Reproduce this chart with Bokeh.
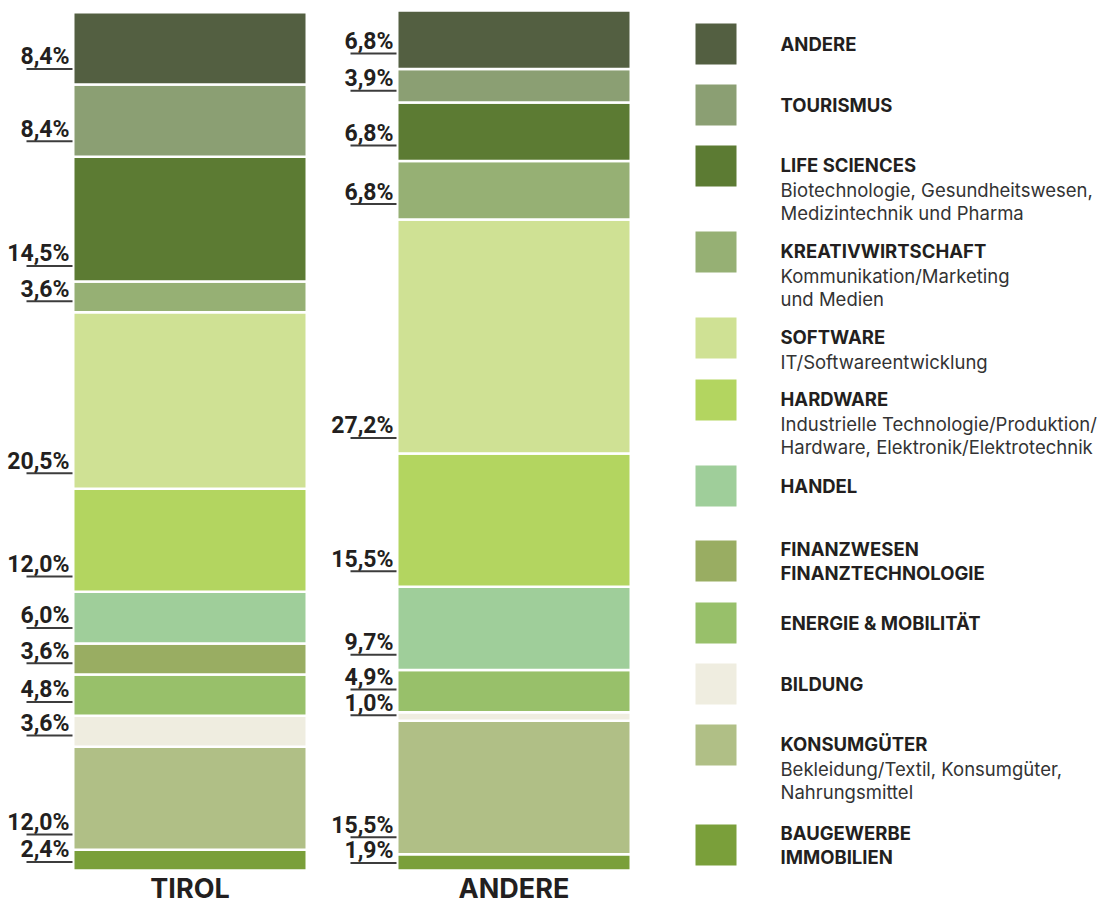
import numpy as np
from bokeh.plotting import figure
from bokeh.layouts import row
from bokeh.models import Range1d, ColumnDataSource
from bokeh.core.properties import value
from bokeh.embed import file_html
from bokeh.resources import INLINE

# ---------------- data (top-to-bottom order of the stacks / legend) ----------------
sectors = ["ANDERE", "TOURISMUS", "LIFE SCIENCES", "KREATIVWIRTSCHAFT", "SOFTWARE",
           "HARDWARE", "HANDEL", "FINANZWESEN FINANZTECHNOLOGIE", "ENERGIE & MOBILITÄT",
           "BILDUNG", "KONSUMGÜTER", "BAUGEWERBE IMMOBILIEN"]
title_lines = [["ANDERE"], ["TOURISMUS"], ["LIFE SCIENCES"], ["KREATIVWIRTSCHAFT"],
               ["SOFTWARE"], ["HARDWARE"], ["HANDEL"], ["FINANZWESEN", "FINANZTECHNOLOGIE"],
               ["ENERGIE & MOBILITÄT"], ["BILDUNG"], ["KONSUMGÜTER"], ["BAUGEWERBE", "IMMOBILIEN"]]
descriptions = [[], [], ["Biotechnologie, Gesundheitswesen,", "Medizintechnik und Pharma"],
                ["Kommunikation/Marketing", "und Medien"], ["IT/Softwareentwicklung"],
                ["Industrielle Technologie/Produktion/", "Hardware, Elektronik/Elektrotechnik"],
                [], [], [], [], ["Bekleidung/Textil, Konsumgüter,", "Nahrungsmittel"], []]
colors = ["#535f41", "#8b9f73", "#5c7b33", "#96b074", "#cfe194", "#b3d560",
          "#9fce9a", "#99ad62", "#98c06a", "#efede0", "#b0bf86", "#7a9f3a"]
groups = ["TIROL", "ANDERE"]
tirol = [8.4, 8.4, 14.5, 3.6, 20.5, 12.0, 6.0, 3.6, 4.8, 3.6, 12.0, 2.4]
andere = [6.8, 3.9, 6.8, 6.8, 27.2, 15.5, 9.7, 0.0, 4.9, 1.0, 15.5, 1.9]
series = [tirol, andere]

# ---------------- layout constants ----------------
H = 906
W1, W2 = 688, 424
PX = 8.6                      # pixels per percent
y_end = 870 / PX
y_start = y_end - H / PX
UNIT = 324.0                  # pixels per category step
x_start = -189.5 / UNIT
x_end = x_start + W1 / UNIT
bar_w = 233.5 / UNIT
half = 231 / 2 / UNIT
TEXT_COLOR = "#231f20"
TXT_SHIFT = 7                 # renderer draws text this many px lower than its anchor
MIN_LABEL_GAP = 3.0           # minimum distance (in %) between stacked label underlines

p1 = figure(width=W1, height=H, x_range=Range1d(x_start, x_end),
            y_range=Range1d(y_start, y_end), x_axis_type=None, y_axis_type=None,
            output_backend="svg", toolbar_location=None, min_border=0,
            outline_line_color=None)

for i, vals in enumerate(series):
    v = np.array(vals[::-1], dtype=float)
    c = colors[::-1]
    tops = np.cumsum(v)
    bottoms = tops - v
    keep = v > 0
    src = ColumnDataSource(dict(
        x=[i] * int(keep.sum()),
        bottom=bottoms[keep], top=tops[keep],
        color=[cc for cc, k in zip(c, keep) if k]))
    p1.vbar(x="x", width=bar_w, bottom="bottom", top="top", fill_color="color",
            line_color="white", line_width=2.5, source=src)

    ly = list(bottoms[keep] + np.minimum(1.8, 0.25 * v[keep] + 0.4))
    for k in range(1, len(ly)):
        ly[k] = max(ly[k], ly[k - 1] + MIN_LABEL_GAP)
    ly = np.array(ly)
    labels = [f"{val:.1f}".replace(".", ",") + "%" for val in v[keep]]
    left = i - half
    lsrc = ColumnDataSource(dict(
        tx=[left - 5 / UNIT] * len(ly), ty=ly + (5 + TXT_SHIFT) / PX, text=labels,
        x0=[left - 48 / UNIT] * len(ly), x1=[left - 2 / UNIT] * len(ly), y=ly))
    p1.segment(x0="x0", y0="y", x1="x1", y1="y", line_color="#3c3c3c",
               line_width=2, source=lsrc)
    p1.text(x="tx", y="ty", text="text", source=lsrc, text_align="right",
            text_baseline="alphabetic", text_font=value("Roboto"),
            text_font_style="bold", text_font_size="23px", text_color=TEXT_COLOR)

cat_y = y_end - (895 - TXT_SHIFT) / PX
p1.text(x=list(range(len(groups))), y=[cat_y] * len(groups), text=groups,
        text_align="center", text_baseline="alphabetic", text_font=value("Inter"),
        text_font_style="bold", text_font_size="27px", text_color=TEXT_COLOR)

# ---------------- legend panel (page pixel coordinates) ----------------
p2 = figure(width=W2, height=H, x_range=Range1d(W1, W1 + W2),
            y_range=Range1d(H, 0), x_axis_type=None, y_axis_type=None,
            output_backend="svg", toolbar_location=None, min_border=0,
            outline_line_color=None)

SW_X, SW, TXT_X = 695, 41, 780
top = 23
sq = dict(left=[], right=[], top=[], bottom=[], color=[])
tt = dict(x=[], y=[], text=[])
dd = dict(x=[], y=[], text=[])
for k in range(len(sectors)):
    tl, ds = title_lines[k], descriptions[k]
    if len(tl) > 1:
        top += 14
    sq["left"].append(SW_X); sq["right"].append(SW_X + SW)
    sq["top"].append(top); sq["bottom"].append(top + SW)
    sq["color"].append(colors[k])
    if ds:
        base = top + 26 - TXT_SHIFT
        for j, t in enumerate(tl):
            tt["x"].append(TXT_X); tt["y"].append(base + 24 * j); tt["text"].append(t)
        for j, d in enumerate(ds):
            dd["x"].append(TXT_X); dd["y"].append(base + 24 * len(tl) + 23 * j + 1)
            dd["text"].append(d)
    else:
        center = top + SW / 2 - TXT_SHIFT
        m = len(tl)
        for j, t in enumerate(tl):
            tt["x"].append(TXT_X); tt["y"].append(center + 6.5 + (j - (m - 1) / 2) * 24)
            tt["text"].append(t)
    n = len(tl) + len(ds)
    top += max(61, 24 * n + 14)

p2.quad(left="left", right="right", top="top", bottom="bottom", fill_color="color",
        line_color=None, source=ColumnDataSource(sq))
p2.text(x="x", y="y", text="text", source=ColumnDataSource(tt), text_align="left",
        text_baseline="alphabetic", text_font=value("Inter"), text_font_style="bold",
        text_font_size="18.5px", text_color=TEXT_COLOR)
p2.text(x="x", y="y", text="text", source=ColumnDataSource(dd), text_align="left",
        text_baseline="alphabetic", text_font=value("Inter"), text_font_size="18.5px",
        text_color="#333333")

layout = row(p1, p2)
open("out.html", "w").write(file_html(layout, INLINE))
